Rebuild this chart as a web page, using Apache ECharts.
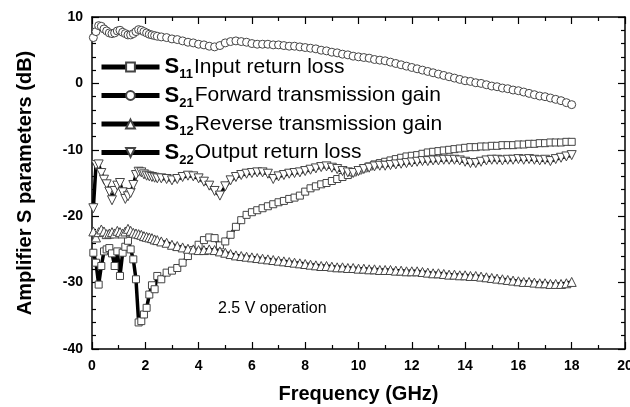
<!DOCTYPE html>
<html>
<head>
<meta charset="utf-8">
<script src="https://cdn.jsdelivr.net/npm/echarts@6/dist/echarts.min.js"></script>
<style>
html,body{margin:0;padding:0;background:#fff}
#chart{width:630px;height:407px}
</style>
</head>
<body>
<div id="chart"></div>
<script>
// frequency points (GHz), finer below 2.5 GHz where the curves wiggle
let freq = [0.05,0.15,0.25,0.35,0.45,0.55,0.65,0.75,0.85,0.95,1.05,1.15,1.25,1.35,1.45,1.55,1.65,1.75,1.85,1.95,2.05,2.15,2.25,2.35,2.45,
    2.6,2.8,3.0,3.2,3.4,3.6,3.8,4.0,4.2,4.4,4.6,4.8,5.0,5.2,5.4,5.6,5.8,6.0,6.2,6.4,6.6,6.8,7.0,7.2,7.4,7.6,7.8,8.0,8.2,8.4,8.6,8.8,9.0,9.2,9.4,9.6,9.8,
    10.0,10.2,10.4,10.6,10.8,11.0,11.2,11.4,11.6,11.8,12.0,12.2,12.4,12.6,12.8,13.0,13.2,13.4,13.6,13.8,14.0,14.2,14.4,14.6,14.8,15.0,15.2,15.4,15.6,15.8,
    16.0,16.2,16.4,16.6,16.8,17.0,17.2,17.4,17.6,17.8,18.0]

// S11 input return loss (dB)
let s11 = [-25.5,-27.0,-30.3,-27.5,-25.3,-25.0,-24.8,-25.6,-27.5,-25.3,-29.0,-25.5,-24.6,-23.7,-25.0,-26.5,-29.5,-36.0,-35.8,-34.8,-33.8,-31.8,-30.4,-31.0,-29.0,
    -29.5,-28.5,-28.2,-27.8,-27.0,-26.0,-25.1,-24.3,-23.6,-23.2,-23.3,-24.4,-23.8,-22.8,-21.6,-20.6,-19.8,-19.4,-19.1,-18.8,-18.5,-18.2,-17.9,-17.7,-17.4,-17.2,-16.9,
    -16.3,-15.8,-15.5,-15.2,-15.0,-14.7,-14.4,-14.1,-13.8,-13.4,-13.1,-12.8,-12.5,-12.2,-12.0,-11.8,-11.6,-11.4,-11.2,-11.0,-10.9,-10.8,-10.6,-10.4,-10.3,-10.2,-10.1,-10.0,
    -9.9,-9.8,-9.7,-9.6,-9.6,-9.5,-9.5,-9.4,-9.4,-9.3,-9.3,-9.3,-9.2,-9.2,-9.1,-9.1,-9.0,-9.0,-8.9,-8.9,-8.9,-8.8,-8.8]

// S21 forward transmission gain (dB)
let s21 = [6.9,7.8,8.7,8.6,8.2,7.9,7.6,7.5,7.6,7.9,8.0,7.7,7.5,7.3,7.3,7.5,7.8,8.1,8.0,7.8,7.6,7.4,7.3,7.2,7.1,
    7.0,6.9,6.7,6.6,6.4,6.2,6.1,5.9,5.8,5.6,5.5,5.7,6.1,6.3,6.4,6.3,6.2,6.0,5.9,5.9,5.9,5.8,5.8,5.7,5.6,5.6,5.5,
    5.4,5.3,5.2,5.0,4.9,4.7,4.6,4.4,4.3,4.1,4.0,3.9,3.8,3.6,3.5,3.4,3.2,3.0,2.8,2.6,2.4,2.2,2.0,1.8,1.6,1.4,1.2,1.0,
    0.8,0.6,0.4,0.3,0.1,0.0,-0.2,-0.4,-0.5,-0.7,-0.8,-1.0,-1.1,-1.3,-1.5,-1.7,-1.9,-2.0,-2.2,-2.4,-2.6,-2.9,-3.2]

// S12 reverse transmission gain (dB)
let s12 = [-22.3,-23.2,-22.4,-22.0,-22.3,-22.7,-22.6,-22.4,-22.6,-22.2,-22.4,-22.6,-22.3,-21.9,-22.2,-22.5,-22.6,-22.7,-22.8,-23.0,-23.1,-23.2,-23.3,-23.5,-23.6,
    -23.8,-24.0,-24.3,-24.5,-24.7,-24.9,-25.0,-25.1,-25.1,-25.0,-25.1,-25.3,-25.5,-25.7,-25.9,-26.0,-26.1,-26.2,-26.3,-26.4,-26.5,-26.6,-26.7,-26.8,-26.9,-27.0,-27.1,
    -27.2,-27.3,-27.4,-27.5,-27.5,-27.6,-27.7,-27.7,-27.8,-27.8,-27.9,-27.9,-28.0,-28.0,-28.1,-28.1,-28.1,-28.2,-28.2,-28.3,-28.3,-28.3,-28.4,-28.5,-28.6,-28.6,-28.7,-28.8,
    -28.8,-28.9,-28.9,-29.0,-29.0,-29.1,-29.2,-29.3,-29.4,-29.5,-29.6,-29.7,-29.8,-29.9,-29.9,-30.0,-30.1,-30.1,-30.2,-30.2,-30.2,-30.1,-29.9]

// S22 output return loss (dB)
let s22 = [-18.8,-12.3,-12.2,-13.5,-14.5,-15.2,-16.3,-17.6,-16.2,-15.4,-15.0,-16.4,-17.4,-17.0,-16.5,-15.3,-13.8,-13.3,-13.4,-13.7,-13.9,-14.0,-14.1,-14.2,-14.3,
    -14.3,-14.4,-14.6,-14.4,-14.1,-13.9,-14.0,-14.3,-14.8,-15.4,-16.2,-16.9,-15.5,-14.6,-14.1,-13.8,-13.6,-13.5,-13.4,-13.4,-13.6,-14.4,-14.0,-13.8,-13.6,-13.5,-13.4,
    -13.2,-13.0,-12.8,-12.6,-12.5,-12.7,-12.9,-13.2,-13.4,-13.5,-13.2,-12.9,-12.7,-12.5,-12.4,-12.4,-12.3,-12.2,-12.1,-12.0,-11.9,-11.8,-11.7,-11.7,-11.6,-11.6,-11.5,-11.5,
    -11.5,-11.6,-11.8,-12.0,-12.0,-11.8,-11.6,-11.5,-11.5,-11.6,-11.5,-11.5,-11.4,-11.5,-11.4,-11.5,-11.6,-11.5,-11.7,-11.4,-11.2,-11.0,-10.8]

let names = ['Input return loss','Forward transmission gain','Reverse transmission gain','Output return loss']
let subs = ['11','21','12','22']

let font = 'Liberation Sans, Arial, sans-serif'

function pairs(vals){
    let out = []
    for(let i=0;i<freq.length;i++)
        out.push([freq[i], vals[i]])
    return out
}

function makeSeries(name, vals, symbol, rotate, size){
    return {
        name: name,
        type: 'line',
        data: pairs(vals),
        symbol: symbol,
        symbolRotate: rotate,
        symbolSize: size,
        showAllSymbol: true,
        lineStyle: { color: '#000', width: 3.5 },
        itemStyle: { color: '#fff', borderColor: '#444', borderWidth: 1 },
        emphasis: { disabled: true }
    }
}

let tickLine = { color: '#000', width: 1.2 }
let axisLine = { onZero: false, lineStyle: { color: '#000', width: 1.5 } }

let option = {
    animation: false,
    textStyle: { fontFamily: font },
    grid: { left: 92, right: 5, top: 17, bottom: 58, outerBoundsMode: 'none' },
    legend: {
        orient: 'vertical',
        left: 99,
        top: 56,
        padding: 0,
        itemWidth: 58,
        itemHeight: 11,
        itemGap: 3.5,
        selectedMode: false,
        data: names,
        lineStyle: { width: 5 },
        formatter: function(n){
            let i = names.indexOf(n)
            return '{s|S}{sub|' + subs[i] + '}{t|' + n + '}'
        },
        textStyle: {
            rich: {
                s: { fontSize: 22, fontWeight: 'bold', color: '#000', fontFamily: font },
                sub: { fontSize: 13, fontWeight: 'bold', color: '#000', fontFamily: font, padding: [15, 1, 0, 0] },
                t: { fontSize: 21, color: '#000', fontFamily: font }
            }
        }
    },
    xAxis: [{
        type: 'value',
        min: 0, max: 20, interval: 2,
        name: 'Frequency (GHz)',
        nameLocation: 'middle',
        nameGap: 35,
        nameTextStyle: { fontSize: 20, fontWeight: 'bold', color: '#000', fontFamily: font },
        axisLine: axisLine,
        axisTick: { inside: true, length: 7, lineStyle: tickLine },
        minorTick: { show: true, splitNumber: 2, length: 4, lineStyle: tickLine },
        axisLabel: { fontSize: 14, fontWeight: 'bold', color: '#000', margin: 10, fontFamily: font },
        splitLine: { show: false }
    }, {
        type: 'value',
        position: 'top',
        min: 0, max: 20, interval: 2,
        axisLine: axisLine,
        axisTick: { inside: true, length: 7, lineStyle: tickLine },
        minorTick: { show: true, splitNumber: 2, length: 4, lineStyle: tickLine },
        axisLabel: { show: false },
        splitLine: { show: false }
    }],
    yAxis: [{
        type: 'value',
        min: -40, max: 10, interval: 10,
        name: 'Amplifier S parameters (dB)',
        nameLocation: 'middle',
        nameGap: 57,
        nameTextStyle: { fontSize: 20, fontWeight: 'bold', color: '#000', fontFamily: font },
        axisLine: axisLine,
        axisTick: { inside: true, length: 7, lineStyle: tickLine },
        minorTick: { show: true, splitNumber: 5, length: 4, lineStyle: tickLine },
        axisLabel: { fontSize: 14, fontWeight: 'bold', color: '#000', margin: 9, fontFamily: font },
        splitLine: { show: false }
    }, {
        type: 'value',
        position: 'right',
        min: -40, max: 10, interval: 10,
        axisLine: axisLine,
        axisTick: { inside: true, length: 7, lineStyle: tickLine },
        minorTick: { show: true, splitNumber: 5, length: 4, lineStyle: tickLine },
        axisLabel: { show: false },
        splitLine: { show: false }
    }],
    graphic: [{
        type: 'text',
        left: 218,
        top: 301,
        style: { text: '2.5 V operation', fontSize: 16, fill: '#000', fontFamily: font }
    }],
    series: [
        makeSeries(names[0], s11, 'rect', 0, 7),
        makeSeries(names[1], s21, 'circle', 0, 8),
        makeSeries(names[2], s12, 'triangle', 0, 9),
        makeSeries(names[3], s22, 'triangle', 180, 9)
    ]
}

let chartDom = echarts.init(document.querySelector("#chart"))
chartDom.setOption(option)
</script>
</body>
</html>
